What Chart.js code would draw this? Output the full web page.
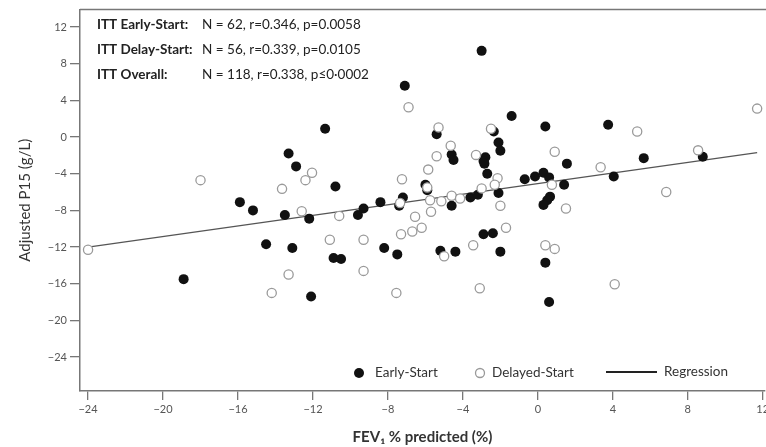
<!DOCTYPE html>
<html>
<head>
<meta charset="utf-8">
<script src="https://cdn.jsdelivr.net/npm/chart.js@4.4.1/dist/chart.umd.min.js"></script>
<style>
  html, body { margin: 0; padding: 0; background: #fff; overflow: hidden; }
  #wrap { width: 800px; height: 447px; }
</style>
</head>
<body>
<div id="wrap"><canvas id="chart" width="800" height="447"></canvas></div>
<script>
// Early-Start (filled) points
const earlyX = [-18.9, -15.9, -15.2, -14.5, -13.1, -10.9, -10.5, -12.1, -8.2, -7.5,
  -5.2, -4.4, -2.9, -2.4, -2.0, 0.4, 0.6, -13.3, -12.9, -10.8,
  -13.5, -12.2, -9.6, -9.3, -8.4, -7.2, -7.4, -6.0, -5.9, -4.6,
  -4.5, -4.6, -3.6, -3.2, -2.1, -2.8, -2.9, -2.85, -2.7, -0.7,
  -0.15, 0.3, 0.6, 0.65, 0.5, 0.3, -3.0, -7.1, -11.35, -1.4,
  0.4, -5.4, -2.35, -2.1, -2.0, 3.75, 1.55, 1.4, 4.05, 5.65, 8.8];
const earlyY = [-15.5, -7.1, -8.0, -11.7, -12.1, -13.2, -13.3, -17.4, -12.1, -12.8,
  -12.4, -12.5, -10.6, -10.5, -12.5, -13.7, -18.0, -1.8, -3.2, -5.4,
  -8.5, -8.9, -8.5, -7.8, -7.1, -6.6, -7.5, -5.2, -5.8, -1.9,
  -2.5, -7.5, -6.6, -6.3, -6.1, -2.2, -2.6, -2.9, -4.0, -4.6,
  -4.3, -3.9, -4.4, -6.5, -6.9, -7.4, 9.4, 5.6, 0.9, 2.3,
  1.15, 0.3, 0.6, -0.6, -1.5, 1.35, -2.9, -5.2, -4.3, -2.3, -2.15];

// Delayed-Start (open) points
const delayedX = [-24.0, -18.0, -11.1, -9.3, -13.3, -9.3, -14.2, -7.55, -7.3, -6.7,
  -6.2, -5.0, -3.45, -1.7, -3.1, 0.4, 0.9, 4.1, -12.05, -12.4,
  -13.65, -12.6, -10.6, -7.25, -7.35, -6.55, -5.7, -5.75, -5.9, -5.85,
  -5.4, -5.15, -4.6, -4.15, -3.0, -2.15, -2.3, -2.0, -6.9, -5.3,
  -2.5, -4.65, -3.3, 11.7, 5.3, 0.9, 0.75, 3.35, 8.55, 6.85, 1.5];
const delayedY = [-12.3, -4.7, -11.2, -11.2, -15.0, -14.6, -17.0, -17.0, -10.6, -10.3,
  -9.9, -13.0, -11.8, -9.9, -16.5, -11.8, -12.2, -16.05, -3.9, -4.7,
  -5.65, -8.1, -8.6, -4.6, -7.2, -8.7, -8.15, -6.9, -5.5, -3.55,
  -2.1, -7.0, -6.4, -6.7, -5.6, -4.5, -5.2, -7.5, 3.25, 1.05,
  0.9, -0.95, -1.95, 3.1, 0.6, -1.6, -5.2, -3.3, -1.45, -6.0, -7.8];

// Regression line end points
const regX = [-24.0, 11.7];
const regY = [-12.0, -1.7];

const xTicks = [-24, -20, -16, -12, -8, -4, 0, 4, 8, 12];
const yTicks = [12, 8, 4, 0, -4, -8, -12, -16, -20, -24];

const statLabels = ['ITT Early-Start:', 'ITT Delay-Start:', 'ITT Overall:'];
const statValues = ['N = 62, r=0.346, p=0.0058', 'N = 56, r=0.339, p=0.0105', 'N = 118, r=0.338, p\u22640\u00b70002'];
const legendLabels = ['Early-Start', 'Delayed-Start', 'Regression'];

const FONT = 'Lato, "Open Sans", sans-serif';

function toPoints(xs, ys) {
  return xs.map((x, i) => ({ x: x, y: ys[i] }));
}
function minus(v) {
  return v < 0 ? '\u2212' + Math.abs(v) : String(v);
}

// draws the stats text, top border and the in-plot legend
const extras = {
  id: 'extras',
  afterDraw(chart) {
    const ctx = chart.ctx;
    const area = chart.chartArea;
    ctx.save();

    // top frame line
    ctx.strokeStyle = '#777';
    ctx.lineWidth = 1.5;
    ctx.beginPath();
    ctx.moveTo(area.left, area.top);
    ctx.lineTo(chart.width, area.top);
    ctx.stroke();

    // stats block
    ctx.textBaseline = 'middle';
    ctx.fillStyle = '#222';
    const rows = [25, 50, 75];
    statLabels.forEach((t, i) => {
      ctx.font = 'bold 13.5px ' + FONT;
      ctx.fillText(t, 97, rows[i]);
      ctx.font = '13.5px ' + FONT;
      ctx.fillText(statValues[i], 202, rows[i]);
    });

    // legend
    const ly = 373;
    ctx.font = '13.5px ' + FONT;
    ctx.fillStyle = '#111';
    ctx.beginPath();
    ctx.arc(359, ly, 5, 0, Math.PI * 2);
    ctx.fill();
    ctx.fillStyle = '#333';
    ctx.fillText(legendLabels[0], 375, ly);

    ctx.strokeStyle = '#999';
    ctx.lineWidth = 1.3;
    ctx.fillStyle = '#fff';
    ctx.beginPath();
    ctx.arc(480, ly, 4.5, 0, Math.PI * 2);
    ctx.fill();
    ctx.stroke();
    ctx.fillStyle = '#333';
    ctx.fillText(legendLabels[1], 492, ly);

    ctx.strokeStyle = '#222';
    ctx.lineWidth = 2;
    ctx.beginPath();
    ctx.moveTo(606, ly - 1);
    ctx.lineTo(657, ly - 1);
    ctx.stroke();
    ctx.fillText(legendLabels[2], 664, ly - 1);

    ctx.restore();
  }
};

new Chart(document.getElementById('chart'), {
  type: 'scatter',
  data: {
    datasets: [
      {
        label: legendLabels[1],
        data: toPoints(delayedX, delayedY),
        pointRadius: 4.6,
        pointBackgroundColor: '#fff',
        pointBorderColor: '#9a9a9a',
        pointBorderWidth: 1.3,
        order: 0
      },
      {
        label: legendLabels[0],
        data: toPoints(earlyX, earlyY),
        pointRadius: 5,
        pointBackgroundColor: '#111',
        pointBorderColor: '#111',
        pointBorderWidth: 0,
        order: 1
      },
      {
        type: 'line',
        label: legendLabels[2],
        data: toPoints(regX, regY),
        borderColor: '#555',
        borderWidth: 1.3,
        pointRadius: 0,
        fill: false,
        order: 2
      }
    ]
  },
  options: {
    responsive: false,
    animation: false,
    devicePixelRatio: 1,
    layout: { padding: { top: 9, right: 35, left: 0, bottom: 0 } },
    plugins: {
      legend: { display: false },
      tooltip: { enabled: false }
    },
    scales: {
      x: {
        type: 'linear',
        min: -24.43,
        max: 12.12,
        afterBuildTicks: s => { s.ticks = xTicks.map(v => ({ value: v })); },
        afterFit: s => { s.height = 56; },
        ticks: {
          color: '#555',
          font: { family: FONT, size: 11 },
          padding: 3,
          maxRotation: 0,
          callback: v => minus(v)
        },
        grid: { drawOnChartArea: false, drawTicks: true, tickLength: 9, color: '#777', lineWidth: 1.3 },
        border: { display: true, color: '#777', width: 1.5 },
        title: {
          display: true,
          text: 'FEV\u2081 % predicted (%)',
          color: '#333',
          font: { family: FONT, size: 15, weight: 'bold' },
          padding: { top: 0, bottom: 1 }
        }
      },
      y: {
        type: 'linear',
        min: -27.7,
        max: 13.9,
        afterBuildTicks: s => { s.ticks = yTicks.map(v => ({ value: v })); },
        afterFit: s => { s.width = 80; },
        ticks: {
          color: '#555',
          font: { family: FONT, size: 11 },
          padding: 3,
          callback: v => minus(v)
        },
        grid: { drawOnChartArea: false, drawTicks: true, tickLength: 10, color: '#777', lineWidth: 1.3 },
        border: { display: true, color: '#777', width: 1.5 },
        title: {
          display: true,
          text: 'Adjusted P15 (g/L)',
          color: '#333',
          font: { family: FONT, size: 15 },
          padding: { top: 16, bottom: 0 }
        }
      }
    }
  },
  plugins: [extras]
});
</script>
</body>
</html>
